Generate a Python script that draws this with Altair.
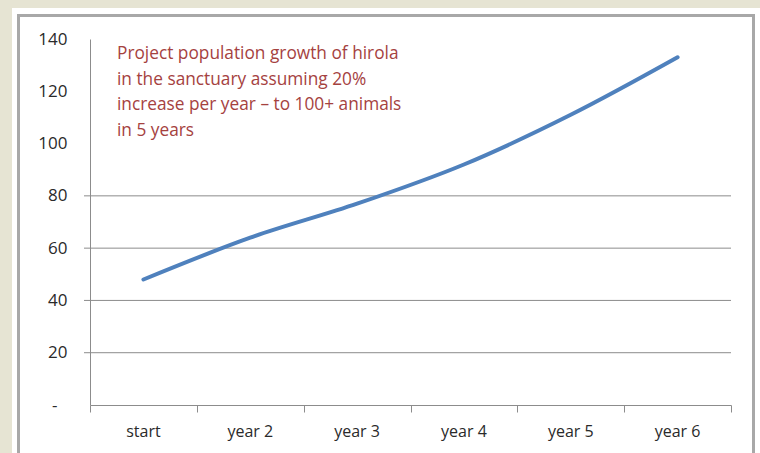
import altair as alt
import pandas as pd

categories = ["start", "year 2", "year 3", "year 4", "year 5", "year 6"]
population = [48, 64, 77, 92, 111, 133]
y_ticks = [0, 20, 40, 60, 80, 100, 120, 140]
grid_values = [20, 40, 60, 80]
x_boundaries = [0, 1, 2, 3, 4, 5, 6]
annotation_lines = [
    "Project population growth of hirola",
    "in the sanctuary assuming 20%",
    "increase per year \u2013 to 100+ animals",
    "in 5 years",
]

W, H = 641, 366
FONT = "Open Sans"
GREY = "#8c8c8c"

df = pd.DataFrame({
    "category": categories,
    "pos": [i + 0.5 for i in range(len(categories))],
    "population": population,
})

xscale = alt.Scale(domain=[0, 6], nice=False, zero=False)
yscale = alt.Scale(domain=[0, 140], nice=False)

one = alt.Data(values=[{"k": 1}])

outer = alt.Chart(one).mark_rect(fill="white", strokeWidth=0).encode(
    x=alt.value(-78), x2=alt.value(670), y=alt.value(-31), y2=alt.value(440)
)
frame = alt.Chart(one).mark_rect(fill="white", stroke="#a8a8a8", strokeWidth=3).encode(
    x=alt.value(-71.5), x2=alt.value(663.5), y=alt.value(-23.5), y2=alt.value(440)
)

base_axes = alt.Chart(df).mark_line(opacity=0).encode(
    x=alt.X("pos:Q", scale=xscale,
            axis=alt.Axis(values=x_boundaries, labels=False, title=None, grid=False,
                          domainColor=GREY, tickColor=GREY, tickSize=7, zindex=1)),
    y=alt.Y("population:Q", scale=yscale,
            axis=alt.Axis(values=y_ticks, title=None, grid=False, ticks=False,
                          domainColor=GREY,
                          labelPadding=alt.condition("datum.value == 0", alt.value(33), alt.value(23)),
                          labelExpr="datum.value == 0 ? '-' : datum.label",
                          labelFont=FONT, labelFontSize=17, labelColor="#2a2a2a",
                          zindex=1)),
)

grid = alt.Chart(pd.DataFrame({"v": grid_values})).mark_rule(color=GREY, strokeWidth=1).encode(
    y=alt.Y("v:Q", scale=yscale), x=alt.value(-6), x2=alt.value(W)
)

line = alt.Chart(df).mark_line(color="#4F81BD", strokeWidth=4, strokeCap="round",
                               interpolate="monotone").encode(
    x=alt.X("pos:Q", scale=xscale), y=alt.Y("population:Q", scale=yscale)
)

xlabels = alt.Chart(df).mark_text(font=FONT, fontSize=16, color="#2a2a2a",
                                  baseline="middle", align="center").encode(
    x=alt.X("pos:Q", scale=xscale), y=alt.value(H + 27), text="category:N"
)

note = alt.Chart(alt.Data(values=[{"t": annotation_lines}])).mark_text(
    font=FONT, fontSize=17.3, color="#A5423F", align="left", baseline="top",
    lineHeight=25.5
).encode(x=alt.value(27), y=alt.value(6), text="t:N")

chart = alt.layer(outer, frame, grid, base_axes, line, xlabels, note).properties(
    width=W, height=H,
    autosize=alt.AutoSizeParams(type="none"),
    padding={"left": 90, "top": 39, "right": 29, "bottom": 48},
    background="#E6E4D3",
).configure_view(stroke=None)

chart.save("out.html", embed_options={"renderer": "svg", "actions": False})
